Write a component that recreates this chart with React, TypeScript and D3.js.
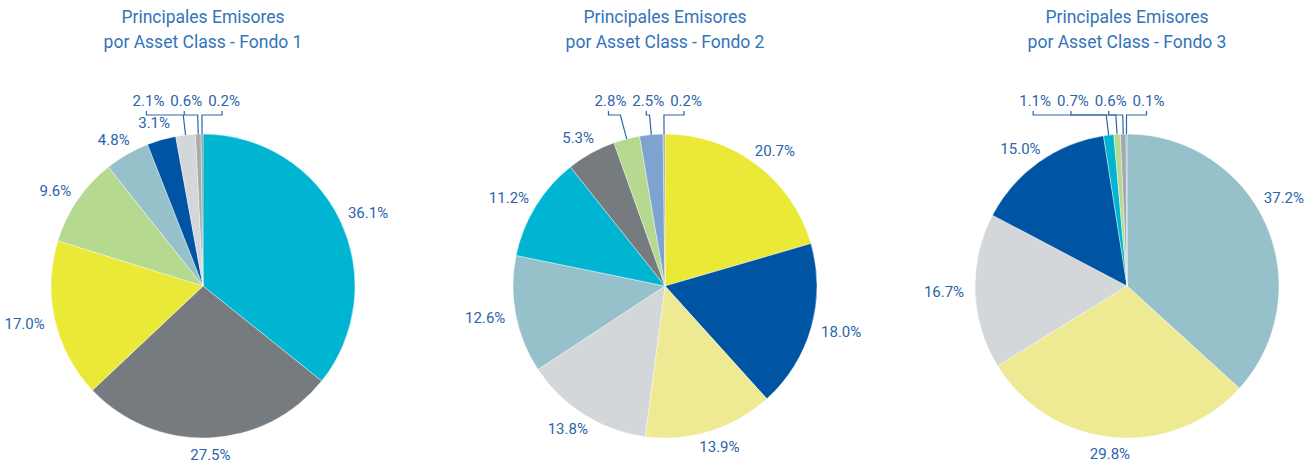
import React from 'react';
import * as d3 from 'd3';

const titleLine1 = 'Principales Emisores';
const titleLine2Prefix = 'por Asset Class - ';
const fondoNames = ['Fondo 1', 'Fondo 2', 'Fondo 3'];

const fondo1Values = [36.1, 27.5, 17.0, 9.6, 4.8, 3.1, 2.1, 0.6, 0.2];
const fondo2Values = [20.7, 18.0, 13.9, 13.8, 12.6, 11.2, 5.3, 2.8, 2.5, 0.2];
const fondo3Values = [37.2, 29.8, 16.7, 15.0, 1.1, 0.7, 0.6, 0.1];

const fondo1Colors = ['#00b5d2', '#767b7f', '#ebe937', '#b5d98f', '#97c1ca', '#0054a4', '#d4d7d9', '#a9acaf', '#8e969c'];
const fondo2Colors = ['#ebe937', '#0054a4', '#eee993', '#d4d7d9', '#97c1ca', '#00b5d2', '#767b7f', '#b5d98f', '#7fa3d0', '#a3a8ad'];
const fondo3Colors = ['#97c1ca', '#eee993', '#d4d7d9', '#0054a4', '#00b5d2', '#b5d98f', '#a3a8ad', '#7fa3d0'];

const allValues = [fondo1Values, fondo2Values, fondo3Values];
const allColors = [fondo1Colors, fondo2Colors, fondo3Colors];

const W = 1313;
const H = 466;
const R = 152;
const CY = 286;
const FONT = 'Roboto, "Open Sans", sans-serif';
const LABEL_COLOR = '#2c64ab';
const TITLE_COLOR = '#3373bb';
const LABEL_SIZE = 15;
const SMALL_THRESHOLD = 3;

const fmt = (v: number) => d3.format('.1f')(v) + '%';

function textWidth(s: string): number {
  let w = 0;
  for (const ch of s) {
    if (ch === '.') w += 0.263;
    else if (ch === '%') w += 0.733;
    else w += 0.562;
  }
  return w * LABEL_SIZE;
}

function PieChart({ cx, values, colors, name }: { cx: number; values: number[]; colors: string[]; name: string }) {
  const pie = d3.pie<number>().sort(null).value((d) => d);
  const arcs = pie(values);
  const arcGen = d3.arc<d3.PieArcDatum<number>>().innerRadius(0).outerRadius(R);

  const normal = arcs.filter((a) => a.data >= SMALL_THRESHOLD);
  const small = arcs.filter((a) => a.data < SMALL_THRESHOLD);

  // top-row labels for small slices
  const rowY = -(R + 33);
  const yH = -(R + 19);
  const gap = 6;
  const smallInfo = small.map((a) => {
    const mid = (a.startAngle + a.endAngle) / 2;
    const text = fmt(a.data);
    return {
      mid,
      text,
      w: textWidth(text),
      ex: Math.sin(mid) * R,
      ey: -Math.cos(mid) * R,
      xH: Math.tan(mid) * (R + 19),
      lx: 0,
    };
  });
  for (let i = smallInfo.length - 1; i >= 0; i--) {
    if (i === smallInfo.length - 1) smallInfo[i].lx = smallInfo[i].ex + 22;
    else smallInfo[i].lx = smallInfo[i + 1].lx - (smallInfo[i + 1].w / 2 + gap + smallInfo[i].w / 2);
  }

  const maxRight = W - 9 - cx; // keep labels inside the picture
  const rr = R + 10;

  return (
    <g transform={`translate(${cx},0)`}>
      <text x={0} y={17} textAnchor="middle" dominantBaseline="central" fontFamily={FONT} fontSize={17.5} fill={TITLE_COLOR}>
        {titleLine1}
      </text>
      <text x={0} y={42} textAnchor="middle" dominantBaseline="central" fontFamily={FONT} fontSize={17.5} fill={TITLE_COLOR}>
        {titleLine2Prefix + name}
      </text>
      <g transform={`translate(0,${CY})`}>
        {arcs.map((a, i) => (
          <path key={i} d={arcGen(a) || ''} fill={colors[i]} stroke="#ffffff" strokeWidth={0.4} />
        ))}
        {normal.map((a, i) => {
          const mid = (a.startAngle + a.endAngle) / 2;
          const text = fmt(a.data);
          const w = textWidth(text);
          let ax = Math.sin(mid) * rr;
          let ay = -Math.cos(mid) * rr;
          let x = ax + Math.sin(mid) * (w / 2 + 1);
          let y = ay - Math.cos(mid) * 7;
          if (x + w / 2 > maxRight) {
            // slide the label along the label circle until it fits
            const cxLabel = maxRight - w / 2;
            ax = cxLabel - w / 2 - 1;
            ay = -Math.sqrt(Math.max(0, rr * rr - ax * ax)) * Math.sign(Math.cos(mid));
            x = cxLabel;
            y = ay;
          }
          return (
            <text key={'n' + i} x={x} y={y} textAnchor="middle" dominantBaseline="central" fontFamily={FONT} fontSize={LABEL_SIZE} fill={LABEL_COLOR}>
              {text}
            </text>
          );
        })}
        {smallInfo.map((s, i) => (
          <g key={'s' + i}>
            <path
              d={`M${s.lx - 2},${rowY + 10}V${yH}H${s.xH}L${s.ex},${s.ey}`}
              fill="none"
              stroke={LABEL_COLOR}
              strokeWidth={1.2}
            />
            <text x={s.lx} y={rowY} textAnchor="middle" dominantBaseline="central" fontFamily={FONT} fontSize={LABEL_SIZE} fill={LABEL_COLOR}>
              {s.text}
            </text>
          </g>
        ))}
      </g>
    </g>
  );
}

export default function App() {
  const xScale = d3.scaleBand<string>().domain(fondoNames).range([-28, -28 + 462 * 3]);
  return (
    <svg
      width={W}
      height={H}
      viewBox={`0 0 ${W} ${H}`}
      style={{ position: 'absolute', left: 0, top: 0, background: '#ffffff' }}
    >
      <rect x={0} y={0} width={W} height={H} fill="#ffffff" />
      {fondoNames.map((n, i) => (
        <PieChart key={n} name={n} cx={(xScale(n) || 0) + xScale.bandwidth() / 2} values={allValues[i]} colors={allColors[i]} />
      ))}
    </svg>
  );
}
